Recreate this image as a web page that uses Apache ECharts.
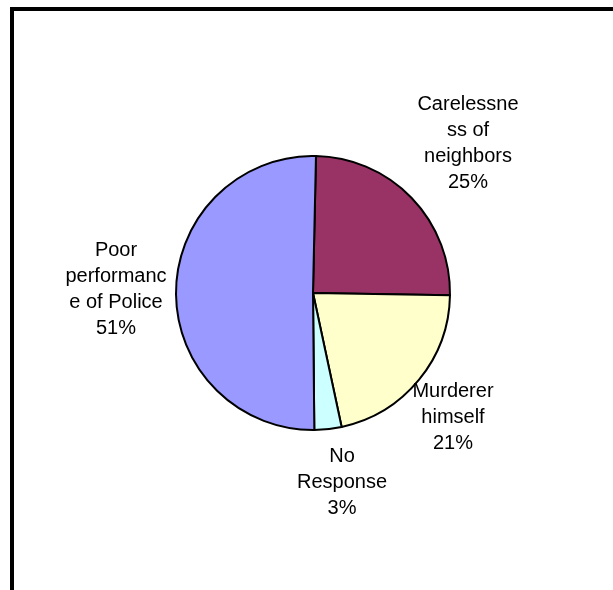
<!DOCTYPE html>
<html>
<head>
<meta charset="utf-8">
<script src="https://cdn.jsdelivr.net/npm/echarts@6/dist/echarts.min.js"></script>
<style>
  html, body { margin: 0; padding: 0; background: #fff; }
  #pie { width: 613px; height: 590px; }
</style>
</head>
<body>
<div id="pie"></div>
<script>
  // slices, clockwise from the top
  var categories = ['Carelessne\nss of\nneighbors', 'Murderer\nhimself', 'No\nResponse', 'Poor\nperformanc\ne of Police'];
  var values = [24.9, 21.4, 3.2, 50.5];
  var colors = ['#993366', '#FFFFCC', '#CCFFFF', '#9999FF'];

  // where each label block sits (centre of the text)
  var labelPos = [[468, 143], [453, 417], [342, 482], [116, 289]];

  var chart = echarts.init(document.getElementById('pie'));
  chart.setOption({
    animation: false,
    graphic: [
      { type: 'rect', shape: { x: 10, y: 7, width: 603, height: 4 }, style: { fill: '#000' } },
      { type: 'rect', shape: { x: 10, y: 7, width: 4, height: 583 }, style: { fill: '#000' } }
    ],
    series: [
      {
        type: 'pie',
        center: [313, 293],
        radius: 137,
        startAngle: 88.75,
        clockwise: true,
        data: categories.map(function (c, i) {
          return { name: c, value: values[i], itemStyle: { color: colors[i] } };
        }),
        itemStyle: { borderColor: '#000', borderWidth: 2 },
        emphasis: { disabled: true },
        labelLine: { show: false },
        label: {
          show: true,
          position: 'outside',
          fontFamily: 'Liberation Sans, Arial, sans-serif',
          fontSize: 20,
          lineHeight: 26,
          color: '#000',
          align: 'center',
          formatter: function (p) {
            return p.name + '\n' + Math.round(p.percent) + '%';
          }
        },
        labelLayout: function (p) {
          var pos = labelPos[p.dataIndex];
          return { x: pos[0], y: pos[1], align: 'center', verticalAlign: 'middle' };
        }
      }
    ]
  });
</script>
</body>
</html>
